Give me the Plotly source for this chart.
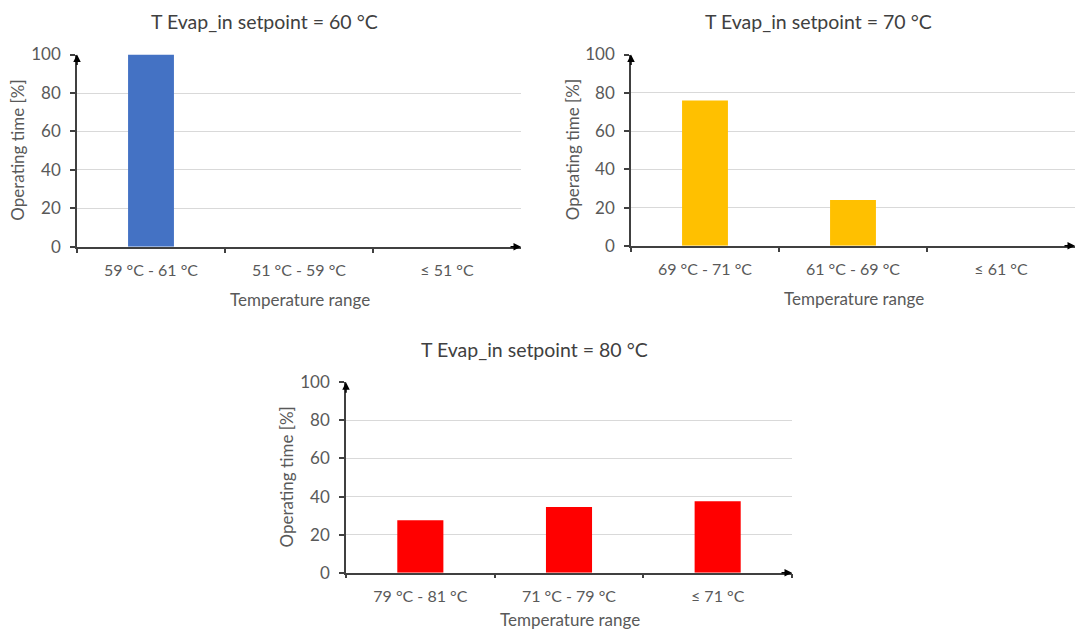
import plotly.graph_objects as go

# ---- data ----
cats_60 = ["59 °C - 61 °C", "51 °C - 59 °C", "≤ 51 °C"]
vals_60 = [100, 0, 0]
cats_70 = ["69 °C - 71 °C", "61 °C - 69 °C", "≤ 61 °C"]
vals_70 = [76, 24, 0]
cats_80 = ["79 °C - 81 °C", "71 °C - 79 °C", "≤ 71 °C"]
vals_80 = [27.5, 34.5, 37.5]
titles = ["T Evap_in setpoint = 60 °C", "T Evap_in setpoint = 70 °C", "T Evap_in setpoint = 80 °C"]
colors = ["#4472C4", "#FFC000", "#FF0000"]
y_ticks = [0, 20, 40, 60, 80, 100]
x_title = "Temperature range"
y_title = "Operating time [%]"

W, H = 1078, 637
FONT = "Lato, 'Liberation Sans', sans-serif"
TXT = "#595959"
TITLE_C = "#404040"
AX = "#404040"


def vy(y):
    # compensate the vertical offset/scale observed in the rendered snapshot
    return (y - 9.3) / 0.9705


def px(x):
    return x / W


def py(y):
    return 1 - min(vy(y), 629) / H


# panel pixel boxes: (left, right, top(100), bottom(0)) in target-image pixels
panels = [
    (77, 521, 53, 246),
    (631, 1075, 53, 245),
    (346, 792, 382, 573),
]

fig = go.Figure()
data = [(cats_60, vals_60), (cats_70, vals_70), (cats_80, vals_80)]
annotations = []
for i, ((cats, vals), col) in enumerate(zip(data, colors)):
    n = "" if i == 0 else str(i + 1)
    fig.add_trace(go.Bar(x=cats, y=vals, marker=dict(color=col, line=dict(width=0)),
                         xaxis="x" + n, yaxis="y" + n, showlegend=False,
                         width=0.31, hoverinfo="x+y"))
    l, r, t, b = panels[i]
    fig.layout["xaxis" + n] = dict(
        domain=[px(l), px(r)], anchor="y" + n, type="category",
        showline=True, linecolor=AX, linewidth=1.5,
        ticks="outside", tickson="boundaries", ticklen=4, tickcolor=AX, tickwidth=1.5,
        showgrid=False, tickfont=dict(family=FONT, size=16, color=TXT),
        ticklabelstandoff=8, fixedrange=True,
    )
    fig.layout["yaxis" + n] = dict(
        domain=[py(b), py(t)], anchor="x" + n, range=[0, 100],
        tickvals=y_ticks, showline=True, linecolor=AX, linewidth=1.5,
        ticks="outside", ticklen=5, tickcolor=AX, tickwidth=1.5,
        showgrid=True, gridcolor="#D9D9D9", gridwidth=1, zeroline=False,
        tickfont=dict(family=FONT, size=17, color=TXT), ticklabelstandoff=6,
        fixedrange=True,
    )
    xr = "x" + n + " domain"
    yr = "y" + n + " domain"
    # arrowheads on axes
    annotations.append(dict(x=0, y=1, xref=xr, yref=yr, ax=0, ay=12,
                            showarrow=True, arrowhead=2, arrowsize=1, arrowwidth=1.5,
                            arrowcolor="#000000", text=""))
    annotations.append(dict(x=1, y=0, xref=xr, yref=yr, ax=-12, ay=0,
                            showarrow=True, arrowhead=2, arrowsize=1, arrowwidth=1.5,
                            arrowcolor="#000000", text=""))
    # subplot title (centred over the whole chart block, slightly left of plot centre)
    annotations.append(dict(x=px((l + r) / 2 - 35), y=py(t - 33), xref="paper", yref="paper",
                            showarrow=False, text=titles[i],
                            font=dict(family=FONT, size=19.5, color=TITLE_C),
                            xanchor="center", yanchor="middle"))
    # x axis title
    annotations.append(dict(x=px((l + r) / 2 + 1), y=py(b + 53), xref="paper", yref="paper",
                            showarrow=False, text=x_title,
                            font=dict(family=FONT, size=17, color=TXT),
                            xanchor="center", yanchor="middle"))
    # y axis title
    annotations.append(dict(x=px(l - 59), y=py((t + b) / 2), xref="paper", yref="paper",
                            showarrow=False, text=y_title, textangle=-90,
                            font=dict(family=FONT, size=17, color=TXT),
                            xanchor="center", yanchor="middle"))

fig.update_layout(
    width=W, height=H, autosize=False, margin=dict(l=0, r=0, t=0, b=0),
    paper_bgcolor="white", plot_bgcolor="white",
    annotations=annotations, bargap=0.69,
)

fig.write_html("out.html")
